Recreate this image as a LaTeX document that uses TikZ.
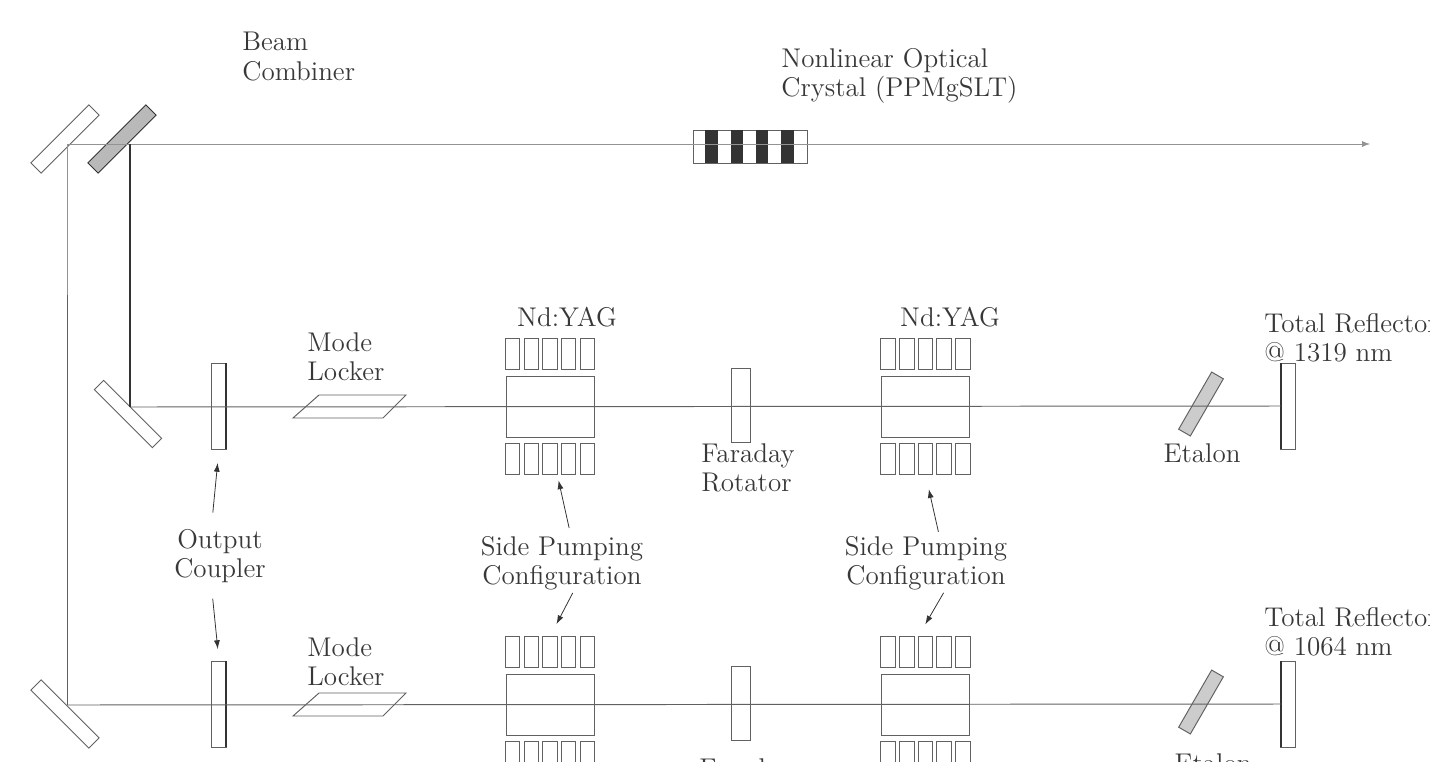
\documentclass[tikz,border=0pt]{standalone}
\usepackage{tikz}
\usetikzlibrary{arrows.meta,calc,positioning}
\definecolor{linegray}{gray}{0.38}
\definecolor{darkline}{gray}{0.2}
\definecolor{textgray}{gray}{0.22}
\tikzset{
  part/.style={draw=linegray, line width=0.55pt, fill=white, inner sep=0pt, outer sep=0pt},
  plate/.style={part, minimum width=0.29cm, minimum height=1.72cm},
  coil/.style={part, minimum width=0.29cm, minimum height=0.62cm},
  rod/.style={part, minimum width=1.76cm, minimum height=1.22cm},
  rotatorbox/.style={part, minimum width=0.38cm, minimum height=1.48cm},
  mirror/.style={part, minimum width=1.64cm, minimum height=0.29cm},
  etalonbox/.style={part, fill=gray!40, minimum width=1.32cm, minimum height=0.27cm, rotate=60},
  beam/.style={draw=linegray, line width=0.55pt},
  palebeam/.style={draw=gray!85, line width=0.55pt},
  heavy/.style={draw=darkline, line width=1.3pt},
  pointer/.style={-{Latex[length=5pt,width=3.4pt]}, draw=darkline, line width=0.45pt},
  label/.style={text=textgray, font=\fontsize{14.4}{15.5}\selectfont, scale=1.07, inner sep=0pt, align=left}
}
\begin{document}
\begin{tikzpicture}[x=0.02cm, y=-0.02cm]
  \useasboundingbox (0,0) rectangle (1430,761);
  \clip (0,0) rectangle (1430,761);
  % Draw the folding mirrors
  \node[mirror, rotate=45] (topmirror) at (65,139) {};
  \node[mirror, rotate=45, fill=gray!55, draw=darkline] (combiner) at (122,139) {};
  \node[mirror, rotate=-45, minimum height=0.26cm] (midmirror) at (128,414) {};
  \node[mirror, rotate=-45] (lowmirror) at (65,714) {};
  % Define points
  \coordinate (fold) at (67,144);
  \coordinate (kink) at (67,295);
  \coordinate (join) at (130,144);
  \coordinate (out) at (1370,144);
  \coordinate (turna) at (130,407);
  \coordinate (turnb) at (67,705);
  % Draw the two laser arms
  \foreach \arm/\y in {a/407,b/705}{
    \node[plate] (coupler\arm) at (219,\y-1) {};
    \draw[part] (293,\y+11) -- (319,\y-12) -- (406,\y-12) -- (383,\y+11) -- cycle;
    \foreach \las/\x in {p/550,q/925.5}{
      \node[rod] (rod\arm\las) at (\x,\y) {};
      \foreach \n in {1,...,5}{
        \node[coil] (upper\arm\las\n) at (\x+\n*18.7-56.1,\y-53) {};
        \node[coil] (lower\arm\las\n) at (\x+\n*18.7-56.1,\y+52) {};
      }
    }
    \node[rotatorbox] (rotator\arm) at (740.5,\y-2) {};
    \node[etalonbox] (etalon\arm) at (1201,\y-3) {};
    \node[plate] (reflector\arm) at (1288,\y-1) {};
    \coordinate (end\arm) at (reflector\arm.west);
    \draw[heavy] (coupler\arm.north east) -- (coupler\arm.south east);
    \draw[heavy] (reflector\arm.north west) -- (reflector\arm.south west);
    \draw[beam] (turn\arm) -- (end\arm);
  }
  % Draw the crystal
  \node[part, minimum width=2.28cm, minimum height=0.66cm] (crystal) at (750,146.5) {};
  \foreach \n/\x in {1/711.5,2/737,3/762,4/787.5}{
    \node[fill=darkline, inner sep=0pt, minimum width=0.25cm, minimum height=0.66cm] (bar\n) at (\x,146.5) {};
  }
  % Draw the beam paths
  \draw[palebeam, -latex] (fold) -- (out);
  \draw[palebeam] (fold) -- (kink);
  \draw[beam] (kink) -- (turnb);
  \draw[heavy] (join) -- (turna);
  % Label the parts
  \node[label, anchor=west] (combinerlabel) at (242,56.5) {Beam\\Combiner};
  \node[label, anchor=west] (crystallabel) at (781,75.5) {Nonlinear Optical\\Crystal (PPMgSLT)};
  \node[label, anchor=west] (lockera) at (307,356.5) {Mode\\Locker};
  \node[label, anchor=west] (lockerb) at (307,662) {Mode\\Locker};
  \node[label] (yagp) at (567,317) {Nd:YAG};
  \node[label] (yagq) at (950,317) {Nd:YAG};
  \node[label, anchor=west] (faradaya) at (701,468) {Faraday\\Rotator};
  \node[label, anchor=west] (faradayb) at (699,783) {Faraday\\Rotator};
  \node[label] (etalonlabela) at (1202,453) {Etalon};
  \node[label] (etalonlabelb) at (1213,763) {Etalon};
  \node[label, anchor=west] (totala) at (1264,337.5) {Total Reflector\\@ 1319 nm};
  \node[label, anchor=west] (totalb) at (1264,632) {Total Reflector\\@ 1064 nm};
  \node[label, align=center] (outputlabel) at (220,556.5) {Output\\Coupler};
  \node[label, align=center] (sidep) at (562,563) {Side Pumping\\Configuration};
  \node[label, align=center] (sideq) at (926,563) {Side Pumping\\Configuration};
  % Draw the pointers
  \draw[pointer, shorten <=0.34cm, shorten >=0.28cm] (outputlabel.108) -- (couplera.south);
  \draw[pointer, shorten <=0.3cm, shorten >=0.24cm] (outputlabel.-108) -- (couplerb.north);
  \draw[pointer, shorten <=0.16cm, shorten >=0.12cm] (sidep.72) -- (lowerap3.south east);
  \draw[pointer, shorten <=0.06cm, shorten >=0.28cm] (sidep.-66) -- (upperbp3.north);
  \draw[pointer, shorten <=0.08cm, shorten >=0.3cm] (sideq.64) -- (loweraq3.south);
  \draw[pointer, shorten <=0.06cm, shorten >=0.28cm] (sideq.-55) -- (upperbq3.north west);
\end{tikzpicture}
\end{document}
